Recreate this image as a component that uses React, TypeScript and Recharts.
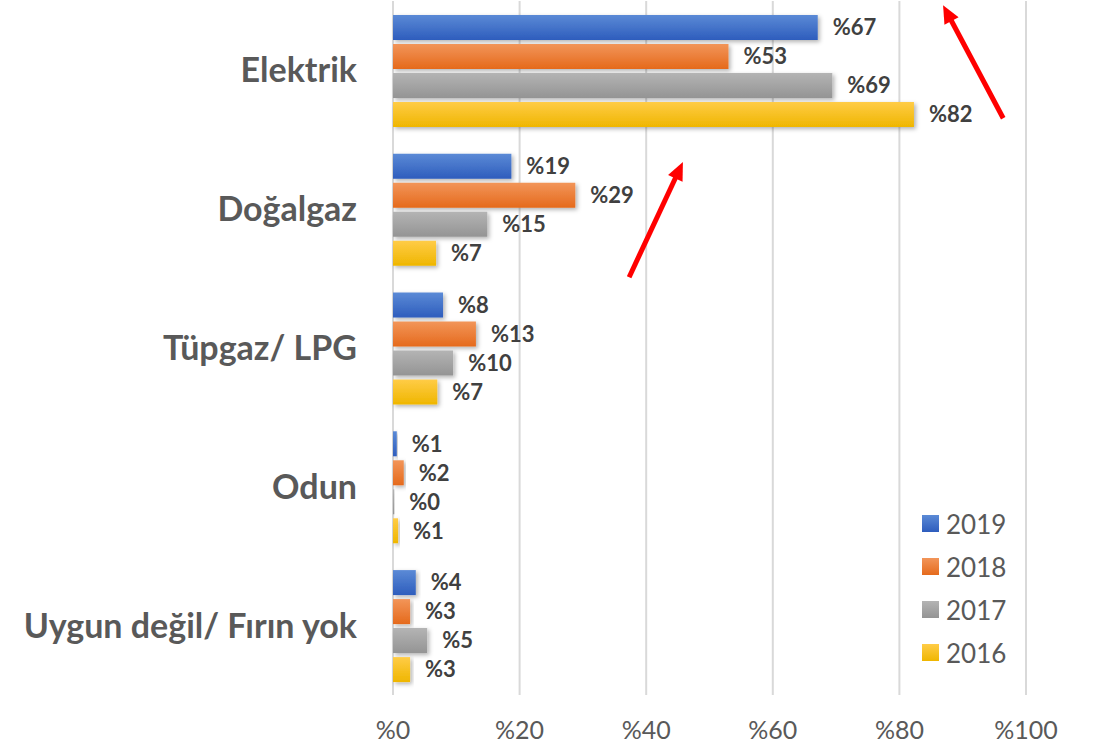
import React from "react";
import {
  BarChart,
  Bar,
  XAxis,
  YAxis,
  CartesianGrid,
  LabelList,
  ScatterChart,
  Scatter,
  ReferenceLine,
} from "recharts";

const categories = ["Elektrik", "Doğalgaz", "Tüpgaz/ LPG", "Odun", "Uygun değil/ Fırın yok"];
const v2019 = [67.1, 18.7, 7.9, 0.6, 3.6];
const v2018 = [53.0, 28.8, 13.1, 1.7, 2.7];
const v2017 = [69.4, 14.9, 9.5, 0.2, 5.4];
const v2016 = [82.3, 6.8, 7.0, 0.8, 2.7];
const xTicks = [0, 20, 40, 60, 80, 100];

const seriesNames = ["2019", "2018", "2017", "2016"];
const seriesColors = [
  ["#5b8ad6", "#2e5dbd"],
  ["#f29559", "#e56a1c"],
  ["#b4b4b4", "#949494"],
  ["#ffcc47", "#efb600"],
];

// annotation arrows: [x1, y1, x2, y2] on the value axis (%) and a 0-100 vertical scale
const arrows = [
  [37.3, 60.2, 45.8, 76.8],
  [96.4, 83.1, 86.9, 99.4],
];

const seriesValues = [v2019, v2018, v2017, v2016];
const data = categories.map((c, i) => {
  const row: any = { name: c };
  seriesNames.forEach((s, j) => {
    row["y" + s] = seriesValues[j][i];
  });
  return row;
});
const arrowPoints = arrows.flatMap((a) => [
  { x: a[0], y: a[1] },
  { x: a[2], y: a[3] },
]);

const FONT = "Lato, 'Open Sans', sans-serif";
const MARGIN = { top: 1, right: 67, bottom: 7, left: 0 };

const ArrowShape = (props: any) => {
  const { x1, y1, x2, y2 } = props;
  if ([x1, y1, x2, y2].some((v) => typeof v !== "number" || isNaN(v))) return <g />;
  const dx = x2 - x1;
  const dy = y2 - y1;
  const len = Math.sqrt(dx * dx + dy * dy);
  const ux = dx / len;
  const uy = dy / len;
  const headLen = 18;
  const headW = 8;
  const bx = x2 - ux * headLen;
  const by = y2 - uy * headLen;
  const px = -uy;
  const py = ux;
  return (
    <g>
      <line x1={x1} y1={y1} x2={bx + ux * 2} y2={by + uy * 2} stroke="#ff0000" strokeWidth={5} />
      <polygon
        points={`${x2},${y2} ${bx + px * headW},${by + py * headW} ${bx - px * headW},${by - py * headW}`}
        fill="#ff0000"
      />
    </g>
  );
};

export default function App() {
  return (
    <div style={{ position: "absolute", left: 0, top: 0, width: 1093, height: 752, background: "#fff" }}>
      <BarChart
        width={1093}
        height={752}
        data={data}
        layout="vertical"
        margin={MARGIN}
        barCategoryGap="10%"
        barGap={4}
      >
        <defs>
          {seriesColors.map((c, i) => (
            <linearGradient key={i} id={"grad" + i} x1="0" y1="0" x2="0" y2="1">
              <stop offset="0%" stopColor={c[0]} />
              <stop offset="100%" stopColor={c[1]} />
            </linearGradient>
          ))}
          <filter id="shadow" x="-10%" y="-30%" width="130%" height="180%">
            <feDropShadow dx="2" dy="2" stdDeviation="2" floodColor="#000" floodOpacity="0.3" />
          </filter>
        </defs>
        <CartesianGrid horizontal={false} stroke="#d9d9d9" strokeWidth={2} />
        <XAxis
          type="number"
          domain={[0, 100]}
          ticks={xTicks}
          tickFormatter={(v: number) => "%" + v}
          axisLine={false}
          tickLine={false}
          tickSize={0}
          tickMargin={26}
          height={50}
          tick={{ fill: "#595959", fontSize: 25, fontFamily: FONT }}
        />
        <YAxis
          type="category"
          dataKey="name"
          width={393}
          axisLine={false}
          tickLine={false}
          tickSize={0}
          tickMargin={36}
          tick={{ fill: "#595959", fontSize: 34, fontWeight: 700, fontFamily: FONT }}
        />
        {seriesNames.map((s, i) => (
          <Bar
            key={s}
            dataKey={"y" + s}
            name={s}
            fill={`url(#grad${i})`}
            style={{ filter: "url(#shadow)" }}
            isAnimationActive={false}
          >
            <LabelList
              dataKey={"y" + s}
              position="right"
              offset={15}
              formatter={(v: any) => "%" + Math.round(Number(v))}
              style={{ fill: "#404040", fontSize: 22, fontWeight: 700, fontFamily: FONT }}
            />
          </Bar>
        ))}
      </BarChart>
      <div style={{ position: "absolute", left: 0, top: 0, pointerEvents: "none" }}>
        <ScatterChart width={1093} height={752} margin={{ top: 1, right: 67, bottom: 57, left: 393 }}>
          <XAxis type="number" dataKey="x" domain={[0, 100]} allowDataOverflow hide />
          <YAxis type="number" dataKey="y" domain={[0, 100]} allowDataOverflow hide />
          <Scatter data={arrowPoints} fill="none" shape={() => <g />} isAnimationActive={false} />
          {arrows.map((a, i) => (
            <ReferenceLine
              key={"arrow" + i}
              segment={[
                { x: a[0], y: a[1] },
                { x: a[2], y: a[3] },
              ]}
              shape={ArrowShape}
              ifOverflow="visible"
            />
          ))}
        </ScatterChart>
      </div>
      <div style={{ position: "absolute", left: 922, top: 502, fontFamily: FONT }}>
        {seriesNames.map((s, i) => (
          <div key={s} style={{ display: "flex", alignItems: "center", height: 43 }}>
            <div
              style={{
                width: 17,
                height: 17,
                background: `linear-gradient(${seriesColors[i][0]}, ${seriesColors[i][1]})`,
                marginRight: 7,
              }}
            />
            <span style={{ fontSize: 26, color: "#595959" }}>{s}</span>
          </div>
        ))}
      </div>
    </div>
  );
}
